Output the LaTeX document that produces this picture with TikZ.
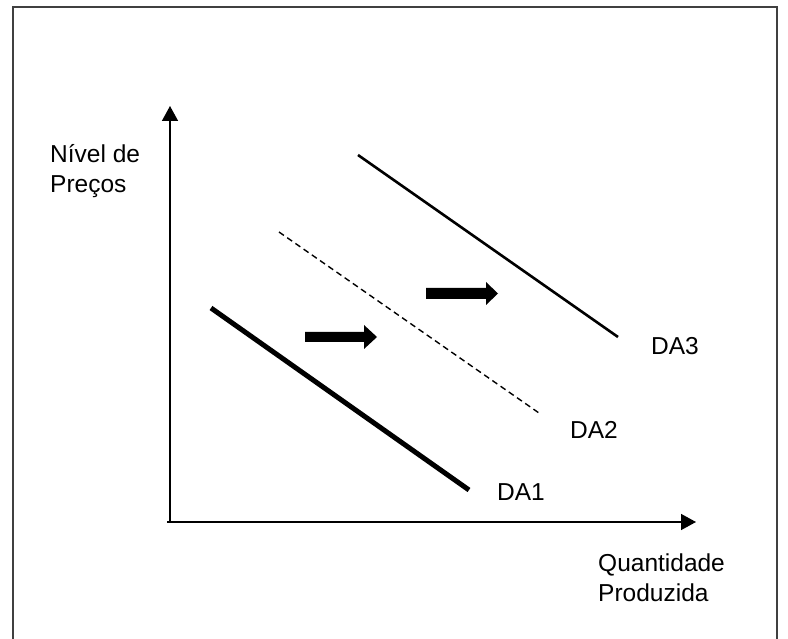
\documentclass[tikz,border=0pt]{standalone}
\usepackage{fontspec}
\setmainfont{Liberation Sans}
\usetikzlibrary{arrows.meta}
\begin{document}
\begin{tikzpicture}[x=1pt,y=-1pt,
  lbl/.style={anchor=base west,inner sep=0pt,font=\fontsize{24.5}{30}\selectfont},
  axis/.style={line width=1.5pt,-{Triangle[length=15pt,width=16pt]}},
  fatarrow/.style={fill=black,draw=none}]
\useasboundingbox (0,0) rectangle (788,639);
% frame
\draw[line width=2.2pt,color=black!75] (13,639) -- (13,7) -- (777,7) -- (777,639);
% axes
\coordinate (O) at (170,522);
\coordinate (ytop) at (170,106);
\coordinate (xend) at (696,522);
\coordinate (xstart) at (167,522);
\draw[axis] (O) -- (ytop);
\draw[axis] (xstart) -- (xend);
% demand curves
\coordinate (a1) at (211,308); \coordinate (b1) at (469,490);
\coordinate (a2) at (279,232); \coordinate (b2) at (539,413);
\coordinate (a3) at (358,155); \coordinate (b3) at (618,337);
\draw[line width=5pt] (a1) -- (b1);
\draw[line width=1.4pt,dash pattern=on 6pt off 4pt] (a2) -- (b2);
\draw[line width=2.6pt] (a3) -- (b3);
% labels
\node[lbl] (da1) at (497,500) {DA1};
\node[lbl] (da2) at (570,438) {DA2};
\node[lbl] (da3) at (651,355) {DA3};
\node[lbl] (ylab1) at (50,163) {Nível de};
\node[lbl] (ylab2) at (50,193) {Preços};
\node[lbl] (xlab1) at (598,571) {Quantidade};
\node[lbl] (xlab2) at (598,601) {Produzida};
% shift arrows
\fill (305,332) -- (364,332) -- (364,325) -- (377,337) -- (364,349) -- (364,342) -- (305,342) -- cycle;
\fill (426,288) -- (486,288) -- (486,282) -- (498,293.5) -- (486,305) -- (486,299) -- (426,299) -- cycle;
\end{tikzpicture}
\end{document}
